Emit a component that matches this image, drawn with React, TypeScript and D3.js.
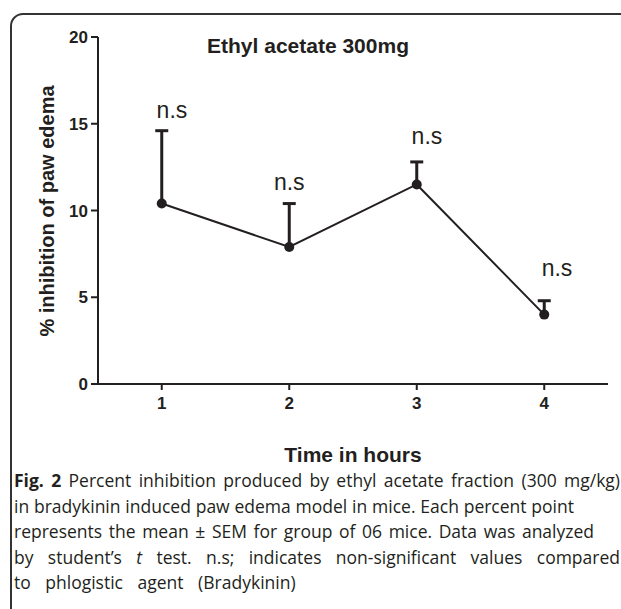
import React, { useLayoutEffect, useRef, useState } from 'react';
import * as d3 from 'd3';

// values
const hours = [1, 2, 3, 4];
const inhibition = [10.4, 7.9, 11.5, 4.0];
const sem = [4.2, 2.5, 1.3, 0.8];
const sigLabels = ['n.s', 'n.s', 'n.s', 'n.s'];
const labelHour = [1.08, 2.0, 3.08, 4.1];
const labelValue = [15.35, 11.2, 13.85, 6.25];
const yTicks = [0, 5, 10, 15, 20];
const xTicks = [1, 2, 3, 4];

// caption lines, with the width each one is set to in the figure
const captionText = [
  'Fig. 2 Percent inhibition produced by ethyl acetate fraction (300 mg/kg)',
  'in bradykinin induced paw edema model in mice. Each percent point',
  'represents the mean \u00b1 SEM for group of 06 mice. Data was analyzed',
  'by student\u2019s t test. n.s; indicates non-significant values compared',
  'to phlogistic agent (Bradykinin)',
];
const captionWidth = [606, 560, 580, 606, 333];

const W = 621, H = 609;
const ink = '#231f20';
const font = '"Liberation Sans", Arial, sans-serif';

// words of a caption line, with bold / italic bits marked
const words = (line: string) =>
  line.split(' ').map((w, j) => ({
    w,
    bold: line.startsWith('Fig.') && j < 2,
    italic: line.startsWith('by student') && w === 't',
  }));

const App = () => {
  const x = d3.scaleLinear().domain([0.5, 4.5]).range([98, 608]);
  const y = d3.scaleLinear().domain([0, 20]).range([384, 37]);
  const line = d3.line<number>().x((d, i) => x(hours[i])).y(d => y(d));

  const capRefs = useRef<(SVGTextElement | null)[]>([]);
  const [spacing, setSpacing] = useState<number[]>(captionText.map(() => 0));

  useLayoutEffect(() => {
    const s = captionText.map((t, i) => {
      const el = capRefs.current[i];
      if (!el) return 0;
      const natural = el.getComputedTextLength();
      const gaps = t.split(' ').length - 1;
      const ws = gaps > 0 ? (captionWidth[i] - natural) / gaps : 0;
      return Math.max(-2, Math.min(ws, 10));
    });
    setSpacing(s);
  }, []);

  return (
    <div style={{ position: 'absolute', left: 0, top: 0 }}>
      <svg width={W} height={H} style={{ display: 'block', background: '#fff' }}>
        {/* frame */}
        <path d={`M11,${H} V26 A12,12 0 0 1 23,14 H${W}`} fill="none" stroke="#333" strokeWidth={2} />

        {/* title */}
        <text x={308} y={53} textAnchor="middle" fontFamily={font} fontWeight="bold" fontSize={21} fill={ink}>
          Ethyl acetate 300mg
        </text>

        {/* y axis */}
        <line x1={x(0.5)} x2={x(0.5)} y1={y(20)} y2={y(0) + 1} stroke={ink} strokeWidth={2} />
        {yTicks.map(t => (
          <g key={'y' + t}>
            <line x1={x(0.5) - 7} x2={x(0.5)} y1={y(t)} y2={y(t)} stroke={ink} strokeWidth={2} />
            <text x={x(0.5) - 10} y={y(t)} dy="0.36em" textAnchor="end" fontFamily={font} fontWeight="bold" fontSize={17} fill={ink}>
              {t}
            </text>
          </g>
        ))}
        <text transform="translate(47,211) rotate(-90)" textAnchor="middle" fontFamily={font} fontWeight="bold" fontSize={20} fill={ink} dy="0.36em">
          % inhibition of paw edema
        </text>

        {/* x axis */}
        <line x1={x(0.5) - 1} x2={x(4.5)} y1={y(0)} y2={y(0)} stroke={ink} strokeWidth={2} />
        {xTicks.map(t => (
          <g key={'x' + t}>
            <line x1={x(t)} x2={x(t)} y1={y(0)} y2={y(0) + 6} stroke={ink} strokeWidth={2} />
            <text x={x(t)} y={409} textAnchor="middle" fontFamily={font} fontWeight="bold" fontSize={17} fill={ink}>
              {t}
            </text>
          </g>
        ))}
        <text x={353} y={462} textAnchor="middle" fontFamily={font} fontWeight="bold" fontSize={21} fill={ink}>
          Time in hours
        </text>

        {/* error bars (upper only) */}
        {inhibition.map((v, i) => (
          <g key={'e' + i}>
            <line x1={x(hours[i])} x2={x(hours[i])} y1={y(v)} y2={y(v + sem[i])} stroke={ink} strokeWidth={3} />
            <line x1={x(hours[i]) - 6.5} x2={x(hours[i]) + 6.5} y1={y(v + sem[i])} y2={y(v + sem[i])} stroke={ink} strokeWidth={3} />
          </g>
        ))}

        {/* mean line */}
        <path d={line(inhibition) || ''} fill="none" stroke={ink} strokeWidth={2} />
        {inhibition.map((v, i) => (
          <circle key={'p' + i} cx={x(hours[i])} cy={y(v)} r={5} fill={ink} />
        ))}

        {/* significance labels */}
        {sigLabels.map((s, i) => (
          <text key={'s' + i} x={x(labelHour[i])} y={y(labelValue[i])} textAnchor="middle" fontFamily={font} fontSize={23} fill={ink}>
            {s}
          </text>
        ))}

        {/* caption, justified by word spacing */}
        {captionText.map((t, i) => (
          <text key={'c' + i} ref={el => { capRefs.current[i] = el; }} x={14} y={487 + i * 25.5}
            fontFamily='"Open Sans", sans-serif' fontSize={17.5} fill={ink}
            style={{ wordSpacing: spacing[i] + 'px', whiteSpace: 'pre' }}>
            {words(t).map((wd, j) => (
              <tspan key={j} fontWeight={wd.bold ? 'bold' : 'normal'} fontStyle={wd.italic ? 'italic' : 'normal'}>
                {(j > 0 ? ' ' : '') + wd.w}
              </tspan>
            ))}
          </text>
        ))}
      </svg>
    </div>
  );
};

export default App;
